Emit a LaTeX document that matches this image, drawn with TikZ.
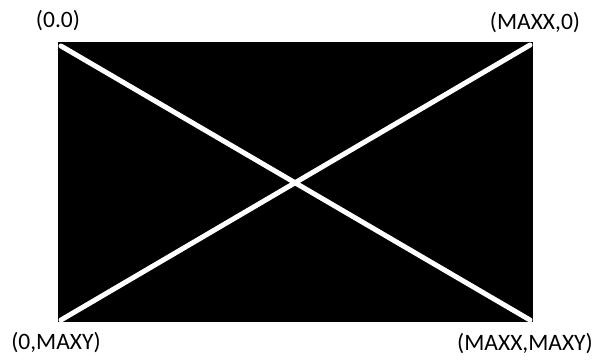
\documentclass[tikz,border=0pt]{standalone}
\usepackage{fontspec}
\setmainfont{Carlito}
\begin{document}
\begin{tikzpicture}[x=1pt,y=-1pt,
  lbl/.style={inner sep=0pt,font=\fontsize{23.5}{26}\selectfont},
  diag/.style={white,line width=5pt,line cap=round}]
\useasboundingbox (0,0) rectangle (595,360);
\fill[black] (58,42) rectangle (533,322);
\coordinate (tl) at (61,46);
\coordinate (tr) at (530,45);
\coordinate (bl) at (61,320);
\coordinate (br) at (530,320);
\draw[diag] (tl) -- (br);
\draw[diag] (bl) -- (tr);
\node[lbl] (a) at (58,21) {(0.0)};
\node[lbl] (b) at (535,23) {(MAXX,0)};
\node[lbl] (c) at (56,343) {(0,MAXY)};
\node[lbl] (d) at (525,344) {(MAXX,MAXY)};
\end{tikzpicture}
\end{document}
